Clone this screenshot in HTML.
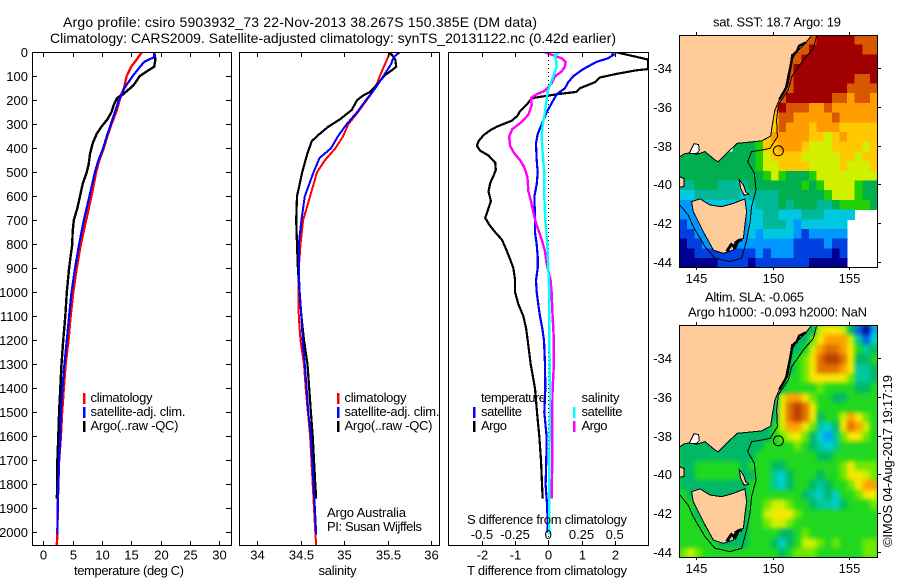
<!DOCTYPE html>
<html>
<head>
<meta charset="utf-8">
<title>Argo profile</title>
<style>
html,body{margin:0;padding:0;background:#fff;}
svg{display:block;}
text{font-family:"Liberation Sans",sans-serif;font-size:13px;fill:#000;}
</style>
</head>
<body>
<svg id="fig" xmlns="http://www.w3.org/2000/svg" width="900" height="580" viewBox="0 0 900 580">
<rect x="0" y="0" width="900" height="580" fill="#fff"/>
<defs>
<clipPath id="clipT"><rect x="32" y="52" width="200" height="494"/></clipPath>
<clipPath id="clipS"><rect x="239" y="52" width="201" height="494"/></clipPath>
<clipPath id="clipD"><rect x="448" y="52" width="201" height="494"/></clipPath>
<clipPath id="clipM1"><rect x="679" y="35" width="199" height="233"/></clipPath>
<clipPath id="clipM2"><rect x="679" y="325" width="199" height="233"/></clipPath>
</defs>
<text x="63" y="27" font-size="14" style="font-size:14px" textLength="474">Argo profile: csiro 5903932_73 22-Nov-2013 38.267S 150.385E (DM data)</text>
<text x="50" y="43" style="font-size:14px" textLength="566">Climatology: CARS2009. Satellite-adjusted climatology: synTS_20131122.nc (0.42d earlier)</text>

<g id="panelT"></g>
<g id="panelS"></g>
<g id="panelD"></g>
<g id="map1"></g>
<g id="map2"></g>

<text x="129" y="575" text-anchor="middle" textLength="110">temperature (deg C)</text>
<text x="337.5" y="575" text-anchor="middle" textLength="38">salinity</text>
<text x="547" y="575" text-anchor="middle" textLength="160">T difference from climatology</text>
<text x="547" y="524" text-anchor="middle" textLength="160">S difference from climatology</text>

<g>
<rect x="83" y="393" width="2.5" height="11" fill="#f00"/>
<rect x="83" y="407" width="2.5" height="11" fill="#00f"/>
<rect x="83" y="421" width="2.5" height="11" fill="#000"/>
<text x="90.5" y="402" textLength="62">climatology</text>
<text x="90.5" y="416" textLength="95">satellite-adj. clim.</text>
<text x="90.5" y="430" textLength="88">Argo(..raw -QC)</text>
</g>
<g>
<rect x="337" y="393" width="2.5" height="11" fill="#f00"/>
<rect x="337" y="407" width="2.5" height="11" fill="#00f"/>
<rect x="337" y="421" width="2.5" height="11" fill="#000"/>
<text x="344.5" y="402" textLength="62">climatology</text>
<text x="344.5" y="416" textLength="95">satellite-adj. clim.</text>
<text x="344.5" y="430" textLength="88">Argo(..raw -QC)</text>
</g>
<g>
<text x="327" y="517" textLength="79">Argo Australia</text>
<text x="327" y="531" textLength="95">PI: Susan Wijffels</text>
</g>
<g>
<text x="481" y="402" textLength="65">temperature</text>
<text x="581.5" y="402" textLength="38">salinity</text>
<rect x="473" y="407" width="2.5" height="11" fill="#00f"/>
<rect x="473" y="421" width="2.5" height="11" fill="#000"/>
<rect x="573" y="407" width="2.5" height="11" fill="#0ff"/>
<rect x="573" y="421" width="2.5" height="11" fill="#f0f"/>
<text x="481" y="416" textLength="41">satellite</text>
<text x="481" y="430" textLength="26">Argo</text>
<text x="581.5" y="416" textLength="41">satellite</text>
<text x="581.5" y="430" textLength="26">Argo</text>
</g>

<text x="777" y="26.5" text-anchor="middle" textLength="128">sat. SST: 18.7 Argo: 19</text>
<text x="705" y="301.5" textLength="99">Altim. SLA: -0.065</text>
<text x="688" y="316.5" textLength="179">Argo h1000: -0.093 h2000: NaN</text>
<text transform="translate(892,547) rotate(-90)" textLength="172">©IMOS 04-Aug-2017 19:17:19</text>
</svg>

<script>
// ---- profile data (depth in m, temperature in deg C, salinity in psu) ----
const climTempDepth = [0,30,60,100,150,180,200,250,300,350,400,450,500,550,600,700,800,900,1000,1100,1200,1300,1400,1500,1600,1700,1800,1900,2000,2056];
const climTemp = [16.8,15.9,15,14.2,13.75,13.2,13,12.4,11.6,10.9,10.3,9.55,9,8.6,8.2,7.3,6.4,5.7,5.1,4.65,4.3,3.8,3.5,3.2,3,2.7,2.55,2.45,2.4,2.3];
const satTempDepth = [0,20,40,60,100,150,180,200,250,300,350,400,450,500,600,700,800,900,1000,1100,1200,1300,1400,1500,1600,1700,1800,1900,2010];
const satTemp = [18.9,18.9,17.2,16.5,15.2,13.8,13.35,12.85,12.2,11.5,10.8,10.2,9.4,8.8,7.85,6.9,6.1,5.4,4.8,4.4,4,3.6,3.25,3,2.9,2.7,2.55,2.45,2.4];
const argoTempDepth = [0,30,60,80,100,130,150,175,190,220,250,280,310,340,380,420,470,500,550,600,650,700,750,800,850,900,1000,1100,1200,1300,1400,1500,1600,1700,1800,1860];
const argoTemp = [18.9,19.1,18.9,17.6,16.4,15.6,14.8,13.6,12.6,12,11.6,10.9,9.9,9.1,8.4,8,7.7,7.4,6.7,6.25,5.8,5.2,5,4.95,4.65,4.4,4,3.75,3.4,3.1,2.9,2.7,2.55,2.4,2.4,2.3];

const climSalDepth = [0,50,100,150,200,250,300,350,400,450,500,550,600,700,800,900,1000,1100,1200,1300,1400,1500,1600,1700,1800,1900,2000,2056];
const climSal = [35.53,35.47,35.41,35.36,35.26,35.16,35.05,34.99,34.9,34.78,34.69,34.65,34.61,34.53,34.5,34.48,34.475,34.48,34.5,34.54,34.56,34.585,34.61,34.625,34.64,34.655,34.67,34.68];
const satSalDepth = [0,20,50,100,150,200,250,300,350,400,440,500,600,700,800,900,1000,1100,1200,1300,1400,1500,1600,1700,1800,1900,2010];
const satSal = [35.64,35.57,35.54,35.45,35.36,35.25,35.15,35.03,34.93,34.85,34.72,34.65,34.55,34.51,34.48,34.48,34.49,34.51,34.525,34.55,34.57,34.59,34.62,34.635,34.65,34.665,34.68];
const argoSalDepth = [0,10,30,60,75,95,130,165,180,200,240,280,310,340,370,420,500,550,600,700,800,900,1000,1100,1200,1300,1400,1500,1600,1700,1800,1860];
const argoSal = [35.51,35.55,35.59,35.6,35.55,35.47,35.39,35.3,35.22,35.15,35.09,34.95,34.82,34.72,34.63,34.58,34.52,34.49,34.46,34.45,34.46,34.47,34.49,34.51,34.54,34.58,34.6,34.62,34.64,34.655,34.67,34.68];

const diffTSatDepth = [5,10,25,40,70,100,125,150,175,200,250,300,340,380,450,500,550,600,650,700,750,800,850,900,950,1000,1050,1100,1150,1200,1300,1400,1500,1600,1700,1800,1900,2000];
const diffTSat = [1.9,1.97,1.8,1.45,1.05,0.75,0.6,0.5,0.25,0.15,-0.05,-0.2,-0.32,-0.37,-0.35,-0.32,-0.35,-0.42,-0.41,-0.4,-0.4,-0.35,-0.32,-0.32,-0.37,-0.35,-0.3,-0.25,-0.18,-0.13,-0.1,-0.09,-0.12,-0.05,-0.06,-0.08,-0.03,-0.02];
const diffTArgoDepth = [0,30,70,75,90,105,125,150,165,175,190,200,215,245,265,285,310,325,345,370,390,410,430,460,490,515,545,580,620,650,690,720,750,780,820,870,900,950,1000,1050,1100,1150,1200,1300,1400,1500,1600,1700,1800,1860];
const diffTArgo = [2.05,3,3,2.65,2.05,1.55,1.4,0.95,0.85,0.25,-0.45,-0.55,-0.63,-0.85,-0.93,-1.1,-1.55,-1.75,-1.95,-2.1,-2.15,-2.05,-1.8,-1.6,-1.58,-1.65,-1.75,-1.8,-1.73,-1.8,-1.9,-1.77,-1.6,-1.4,-1.27,-1.13,-1.05,-1,-1,-0.9,-0.75,-0.67,-0.62,-0.53,-0.4,-0.34,-0.27,-0.22,-0.19,-0.17];
const diffSSatDepth = [0,10,30,60,100,130,170,200,250,300,350,400,450,500,600,700,800,900,1000,1200,1400,1500,1700,1900,2010];
const diffSSat = [0.0875,0.05,0.058,0.0625,0.0375,0.0175,-0.0075,-0.0125,-0.025,-0.0425,-0.05,-0.045,-0.0375,-0.03,-0.03,-0.0225,-0.0075,0,0.0075,0.0075,0.0125,0.0125,0.0075,0.0075,0.0075];
const diffSArgoDepth = [0,10,25,40,60,80,100,130,160,175,190,220,260,290,320,350,390,420,450,480,520,580,620,680,720,780,830,880,950,1000,1100,1200,1300,1400,1500,1600,1700,1860];
const diffSArgo = [-0.025,0.025,0.1,0.13,0.125,0.1,0.05,0.025,-0.025,-0.0875,-0.13,-0.125,-0.15,-0.2,-0.27,-0.295,-0.2875,-0.2575,-0.2125,-0.18,-0.1575,-0.15,-0.13,-0.1075,-0.0875,-0.05,-0.025,-0.0125,0.0175,0.025,0.0325,0.0425,0.0425,0.0325,0.03,0.03,0.03,0.025];

// ---- tick values ----
const depthTicks = [0,100,200,300,400,500,600,700,800,900,1000,1100,1200,1300,1400,1500,1600,1700,1800,1900,2000];
const tempTicks = [0,5,10,15,20,25,30];
const salTicks = [34,34.5,35,35.5,36];
const diffTTicks = [-2,-1,0,1,2];
const diffSTicks = [-0.5,-0.25,0,0.25,0.5];
const lonTicks = [145,150,155];
const latTicks = [-34,-36,-38,-40,-42,-44];

// ---- map grids: 0.5 degree cells, colour level per cell, -1 = no data ----
const sstGrid = [
[-1,-1,-1,-1,-1,-1,-1,-1,-1,-1,-1,-1,-1,-1,-1,-1,10,10,11,11,11,11,11,10,10,10],
[-1,-1,-1,-1,-1,-1,-1,-1,-1,-1,-1,-1,-1,-1,-1,10,10,11,11,11,11,11,11,11,10,10],
[-1,-1,-1,-1,-1,-1,-1,-1,-1,-1,-1,-1,-1,-1,10,10,11,11,11,11,11,11,11,11,11,11],
[-1,-1,-1,-1,-1,-1,-1,-1,-1,-1,-1,-1,-1,10,10,11,11,11,11,11,11,11,11,11,11,11],
[-1,-1,-1,-1,-1,-1,-1,-1,-1,-1,-1,-1,-1,10,10,11,11,11,11,11,11,11,11,10,10,11],
[-1,-1,-1,-1,-1,-1,-1,-1,-1,-1,-1,-1,10,10,10,11,11,11,11,11,11,11,10,10,10,10],
[-1,-1,-1,-1,-1,-1,-1,-1,-1,-1,-1,-1,10,10,11,11,11,11,11,11,10,10,9,10,10,9],
[-1,-1,-1,-1,-1,-1,-1,-1,-1,-1,-1,-1,9,11,10,10,10,9,9,10,9,9,9,9,9,9],
[-1,-1,-1,-1,-1,-1,-1,-1,-1,-1,-1,-1,8,10,10,9,9,9,9,9,10,9,9,9,9,9],
[-1,-1,-1,-1,-1,-1,-1,-1,-1,-1,-1,-1,8,10,9,9,9,8,9,9,9,8,8,8,8,8],
[-1,-1,-1,-1,-1,-1,-1,-1,-1,-1,7,8,9,9,9,9,9,8,8,7,8,9,8,8,8,8],
[-1,-1,-1,-1,-1,-1,-1,5,5,5,6,8,8,9,9,9,8,7,7,7,8,8,8,8,7,8],
[5,5,5,5,5,5,5,5,5,5,6,7,8,8,8,8,7,7,7,7,7,8,8,7,8,8],
[5,5,5,5,5,5,5,5,5,5,6,7,7,8,8,8,8,7,7,7,7,8,7,7,7,8],
[5,5,5,5,5,5,5,5,5,5,5,6,7,6,5,5,5,6,7,7,7,7,7,7,7,7],
[4,4,5,5,5,4,4,4,4,5,5,5,5,5,5,5,6,5,6,7,7,7,7,6,5,5],
[3,3,4,4,4,4,4,4,3,4,4,4,4,5,5,5,5,5,5,6,7,7,7,6,5,5],
[2,2,2,3,3,3,3,3,3,3,4,4,4,5,4,5,5,5,4,4,5,6,6,6,6,5],
[2,2,2,2,2,2,2,2,3,3,3,4,4,3,3,3,4,4,4,3,3,3,3,-1,-1,-1],
[1,2,2,2,2,2,2,2,2,3,3,4,4,4,3,2,3,3,3,3,3,3,-1,-1,-1,-1],
[1,1,2,2,2,2,2,2,2,3,2,3,3,3,3,2,1,2,2,2,2,2,-1,-1,-1,-1],
[0,1,1,2,2,2,2,2,2,2,2,2,2,2,2,1,1,1,1,2,1,1,-1,-1,-1,-1],
[0,0,1,1,1,1,1,1,1,1,2,1,2,2,2,1,1,1,1,1,0,1,-1,-1,-1,-1],
[0,0,0,0,0,1,1,1,1,0,1,1,1,1,1,1,1,0,0,0,0,0,-1,-1,-1,-1]
];
const slaGrid = [
[5,5,5,5,5,5,5,5,5,5,5,5,5,5,5,5,5,5,8,9,9,8,5,1,0,2],
[5,5,5,5,5,5,5,5,5,5,5,5,5,5,5,5,5,7,9,10,10,10,8,4,1,3],
[5,5,5,5,5,5,5,5,5,5,5,5,5,5,5,5,6,8,10,11,11,10,9,6,4,5],
[5,5,5,5,5,5,5,5,5,5,5,5,5,5,5,6,7,9,11,12,12,11,9,5,5,6],
[5,5,5,5,5,5,5,5,5,5,5,5,5,5,5,6,7,9,11,11,11,10,9,4,4,5],
[5,5,5,5,5,5,5,5,5,5,5,5,5,5,6,6,7,9,9,9,9,9,7,4,4,5],
[5,5,5,5,5,5,5,5,5,5,5,5,5,5,6,6,6,6,7,6,6,6,6,5,5,6],
[5,5,5,5,5,5,5,5,5,5,5,5,5,8,10,10,9,7,6,6,5,5,6,6,6,6],
[5,5,5,5,5,5,5,5,5,5,5,5,5,9,11,12,11,9,6,6,6,6,6,6,6,6],
[5,5,5,5,5,5,5,5,5,5,5,5,5,9,11,12,11,9,5,6,6,8,10,9,7,6],
[5,5,5,5,5,5,5,5,5,5,5,5,6,8,10,10,9,7,4,3,5,9,11,10,8,6],
[5,5,5,5,5,5,5,5,5,5,5,5,6,7,8,9,7,5,3,2,4,7,9,9,7,6],
[5,5,5,5,5,5,5,5,5,5,5,6,6,6,6,7,6,5,4,3,4,6,6,6,6,6],
[5,5,5,5,5,5,5,5,5,5,6,6,6,6,6,6,6,6,5,5,6,6,6,6,6,6],
[5,5,6,6,6,6,6,6,5,6,6,6,5,5,6,6,6,6,6,6,6,7,9,7,7,7],
[5,5,6,6,6,6,6,6,5,5,6,6,4,3,5,6,6,6,5,6,6,7,9,9,8,7],
[5,5,5,5,5,5,5,5,5,6,6,6,4,3,5,6,6,5,4,5,6,6,7,9,10,10],
[6,5,5,5,5,5,5,5,5,6,6,6,6,6,6,6,5,4,3,5,3,6,6,7,9,9],
[6,6,5,5,5,5,5,5,5,6,6,7,8,8,7,6,6,5,4,4,3,5,6,6,6,7],
[6,6,5,5,5,5,5,5,5,6,6,8,9,9,9,7,6,6,6,6,6,6,6,6,6,6],
[6,6,6,5,5,5,5,5,5,6,6,7,8,8,7,6,6,6,6,6,6,6,6,6,6,6],
[6,6,6,6,5,5,5,5,5,6,6,6,6,5,5,6,7,6,6,6,6,6,6,6,6,6],
[6,6,6,6,6,5,5,5,5,6,6,6,5,3,5,6,8,8,7,6,7,6,6,6,7,7],
[7,8,7,6,6,6,6,6,6,6,6,6,6,5,6,7,7,7,6,6,6,6,6,6,7,7]
];
const sstColors = ['#000090','#0040e0','#0098ff','#00c8e0','#00b898','#00b050','#20d000','#d0f000','#ffc800','#ff9c00','#d85800','#a00000'];
const slaColors = ['#000090','#0060f0','#00a0ff','#00d0d0','#00c8a0','#00b868','#20d820','#70e800','#d0f000','#f8e800','#ffa000','#e07000','#b84000'];

// ---- geography (lon / lat) ----
const coastLon = [143.88,152.57,152.2,151.59,151.26,151.04,150.82,150.45,150.16,149.97,149.88,149.29,147.69,147.21,146.44,146.23,145.57,145.02,144.7,144.26,143.88];
const coastLat = [-32.3,-32.32,-32.68,-33.16,-33.59,-34.27,-35.13,-35.62,-36.16,-37.02,-37.51,-37.76,-37.88,-38.23,-38.83,-38.74,-38.31,-38.45,-38.38,-38.4,-38.6];
const tasLon = [144.69,145.24,145.9,146.66,147.43,148.19,148.3,148.19,148.09,147.54,147.43,146.77,146.12,145.46,145.13,144.8];
const tasLat = [-40.89,-40.75,-41.06,-41.15,-40.98,-40.75,-41.41,-42.09,-42.78,-42.95,-43.38,-43.55,-43.38,-42.44,-41.92,-41.41];
const kingLon = [143.88,144.2,144.2,143.88];
const kingLat = [-39.6,-39.7,-40.1,-40.15];
const flindersLon = [147.82,148.09,148.24,148.44,148.15,147.91];
const flindersLat = [-39.77,-40.03,-40.37,-40.51,-40.56,-40.2];
const bayLon = [144.55,144.85,145.15,145.2,145.0,144.6];
const bayLat = [-38.38,-37.9,-37.95,-38.25,-38.42,-38.42];
const isoLon = [152.9,152.68,152.02,151.26,151.04,150.38,150.27,150.32,149.84,149.29,148.63,148.37,148.81,148.92,148.63,148.52,148.3,147.98,147.21,146.23,145.57,144.8,144.47,143.93];
const isoLat = [-32.32,-32.99,-33.59,-34.45,-35.13,-35.91,-36.68,-37.54,-38.14,-38.23,-38.31,-38.83,-39.43,-40.29,-41.15,-42.01,-42.87,-43.81,-43.98,-43.81,-43.21,-42.18,-41.58,-41.06];
const roughLon = [152.2,151.75,151.59,151.3,151.26,150.95,150.82,150.45];
const roughLat = [-32.68,-32.85,-33.16,-33.35,-33.59,-34.9,-35.13,-35.62];
const tasRoughLon = [147.0,147.3,147.55,147.75,148.0];
const tasRoughLat = [-43.45,-43.1,-43.25,-42.9,-42.85];
const argoLon = 150.385;
const argoLat = -38.267;

// ---- axis functions ----
const yDepth = d => 52.3 + d * 0.24;
const xTemp = t => 43.3 + t * 5.867;
const xSal = s => 257 + (s - 34) * 87;
const xDiffT = v => 548.3 + v * 33.2;
const xDiffS = v => xDiffT(v * 4);
const xLon = lon => 696.3 + (lon - 145) * 15.24;
const yLat1 = lat => 68 + (-34 - lat) * 19.4;
const yLat2 = lat => 358 + (-34 - lat) * 19.4;

const NS = 'http://www.w3.org/2000/svg';
function mk(tag, parent) {
  const el = document.createElementNS(NS, tag);
  parent.appendChild(el);
  return el;
}
function seriesLine(parent, xf, depths, vals, color, w, name, clip) {
  const el = mk('polyline', parent);
  
  
  el.setAttribute('points', depths.map((d, i) => xf(vals[i]).toFixed(1) + ',' + yDepth(d).toFixed(1)).join(' '));
  el.setAttribute('fill', 'none');
  el.setAttribute('stroke', color);
  el.setAttribute('stroke-width', w);
  el.setAttribute('shape-rendering', 'crispEdges');
  el.setAttribute('clip-path', 'url(#' + clip + ')');
}
function tick(parent, x1, y1, x2, y2) {
  const el = mk('line', parent);
  
  
  el.setAttribute('x1', x1);
  el.setAttribute('y1', y1);
  el.setAttribute('x2', x2);
  el.setAttribute('y2', y2);
  el.setAttribute('stroke', '#000');
  el.setAttribute('stroke-width', 1);
  el.setAttribute('shape-rendering', 'crispEdges');
}
function label(parent, x, y, str, anchor) {
  const el = mk('text', parent);
  
  
  el.setAttribute('x', x);
  el.setAttribute('y', y);
  el.setAttribute('text-anchor', anchor);
  el.textContent = str;
}
function frame(parent, x, y, w, h) {
  const el = mk('rect', parent);
  
  
  el.setAttribute('x', x);
  el.setAttribute('y', y);
  el.setAttribute('width', w);
  el.setAttribute('height', h);
  el.setAttribute('fill', 'none');
  el.setAttribute('stroke', '#000');
  el.setAttribute('stroke-width', 1);
  el.setAttribute('shape-rendering', 'crispEdges');
}

// ---- temperature panel ----
const pT = document.getElementById('panelT');
seriesLine(pT, xTemp, climTempDepth, climTemp, '#f00', 2.4, 'temp-climatology-line', 'clipT');
seriesLine(pT, xTemp, argoTempDepth, argoTemp, '#000', 2.4, 'temp-argo-line', 'clipT');
seriesLine(pT, xTemp, satTempDepth, satTemp, '#00f', 2.2, 'temp-satellite-line', 'clipT');
frame(pT, 32.5, 52.5, 199, 493);
depthTicks.forEach(d => {
  const y = Math.round(yDepth(d)) + 0.5;
  tick(pT, 32, y, 37, y);
  tick(pT, 226, y, 231, y);
  label(pT, 28, y + 4.5, String(d), 'end');
});
tempTicks.forEach(t => {
  const x = Math.round(xTemp(t)) + 0.5;
  tick(pT, x, 52, x, 57);
  tick(pT, x, 541, x, 546);
  label(pT, x, 559.5, String(t), 'middle');
});

// ---- salinity panel ----
const pS = document.getElementById('panelS');
seriesLine(pS, xSal, climSalDepth, climSal, '#f00', 2, 'sal-climatology-line', 'clipS');
seriesLine(pS, xSal, argoSalDepth, argoSal, '#000', 2.2, 'sal-argo-line', 'clipS');
seriesLine(pS, xSal, satSalDepth, satSal, '#00f', 2, 'sal-satellite-line', 'clipS');
frame(pS, 239.5, 52.5, 200, 493);
salTicks.forEach(s => {
  const x = Math.round(xSal(s)) + 0.5;
  tick(pS, x, 52, x, 57);
  tick(pS, x, 541, x, 546);
  label(pS, x, 559.5, String(s), 'middle');
});

// ---- difference panel ----
const pD = document.getElementById('panelD');
const zero = mk('line', pD);


zero.setAttribute('x1', 548.5);
zero.setAttribute('x2', 548.5);
zero.setAttribute('y1', 52);
zero.setAttribute('y2', 545);
zero.setAttribute('stroke', '#000');
zero.setAttribute('stroke-dasharray', '1 3');
seriesLine(pD, xDiffT, diffTArgoDepth, diffTArgo, '#000', 2.2, 'temp-diff-argo-line', 'clipD');
seriesLine(pD, xDiffT, diffTSatDepth, diffTSat, '#00f', 2.2, 'temp-diff-satellite-line', 'clipD');
seriesLine(pD, xDiffS, diffSArgoDepth, diffSArgo, '#f0f', 2.4, 'sal-diff-argo-line', 'clipD');
seriesLine(pD, xDiffS, diffSSatDepth, diffSSat, '#0ff', 2.4, 'sal-diff-satellite-line', 'clipD');
frame(pD, 448.5, 52.5, 200, 493);
diffTTicks.forEach(v => {
  const x = Math.round(xDiffT(v)) + 0.5;
  tick(pD, x, 52, x, 57);
  tick(pD, x, 541, x, 546);
  label(pD, x, 559.5, v < 0 ? '-' + Math.abs(v) : String(v), 'middle');
});
diffSTicks.forEach(v => {
  label(pD, xDiffS(v), 539, v < 0 ? '-' + Math.abs(v) : String(v), 'middle');
});

// ---- maps ----
function poly(parent, lons, lats, yf, fill, stroke, w, closed, name) {
  const el = mk(closed ? 'polygon' : 'polyline', parent);
  
  
  el.setAttribute('points', lons.map((lo, i) => xLon(lo).toFixed(1) + ',' + yf(lats[i]).toFixed(1)).join(' '));
  el.setAttribute('fill', fill);
  el.setAttribute('stroke', stroke);
  el.setAttribute('stroke-width', w);
  el.setAttribute('shape-rendering', 'crispEdges');
}
function drawMap(gid, grid, colors, yf, clip, fy, smooth) {
  const g = document.getElementById(gid);
  const holder = mk('g', g);
  
  
  holder.setAttribute('clip-path', 'url(#' + clip + ')');
  if (smooth) {
    const base = mk('rect', holder);
    
    
    base.setAttribute('x', 679);
    base.setAttribute('y', fy);
    base.setAttribute('width', 199);
    base.setAttribute('height', 233);
    base.setAttribute('fill', colors[6]);
  }
  const cells = mk('g', holder);
  
  
  if (smooth) cells.style.filter = 'blur(2.5px)';
  grid.forEach((row, r) => {
    row.forEach((lev, c) => {
      if (lev < 0) return;
      const x0 = xLon(143.89 + c * 0.5);
      const x1 = xLon(143.89 + (c + 1) * 0.5);
      const y0 = yf(-32.3 - r * 0.5);
      const y1 = yf(-32.3 - (r + 1) * 0.5);
      const el = mk('rect', cells);
      
      
      el.setAttribute('x', x0.toFixed(1));
      el.setAttribute('y', y0.toFixed(1));
      el.setAttribute('width', (x1 - x0 + 0.5).toFixed(1));
      el.setAttribute('height', (y1 - y0 + 0.5).toFixed(1));
      el.setAttribute('fill', colors[lev]);
      el.setAttribute('shape-rendering', 'crispEdges');
    });
  });
  const geo = mk('g', g);
  
  
  geo.setAttribute('clip-path', 'url(#' + clip + ')');
  poly(geo, coastLon, coastLat, yf, '#ffcc99', '#000', 1, true, 'mainland');
  poly(geo, tasLon, tasLat, yf, '#ffcc99', '#000', 1, true, 'tasmania');
  poly(geo, kingLon, kingLat, yf, '#ffcc99', '#000', 1, true, 'king-island');
  poly(geo, flindersLon, flindersLat, yf, '#ffcc99', '#000', 1, true, 'flinders-island');
  poly(geo, bayLon, bayLat, yf, '#fff', '#000', 1, true, 'port-phillip-bay');
  poly(geo, roughLon, roughLat, yf, 'none', '#000', 2.5, false, 'rough-nsw-coast');
  poly(geo, tasRoughLon, tasRoughLat, yf, 'none', '#000', 3, false, 'rough-tasmania-coast');
  poly(geo, isoLon, isoLat, yf, 'none', '#000', 1, false, 'isobath-contour');
  const c = mk('circle', g);
  
  
  c.setAttribute('cx', xLon(argoLon));
  c.setAttribute('cy', yf(argoLat));
  c.setAttribute('r', 5);
  c.setAttribute('fill', 'none');
  c.setAttribute('stroke', '#000');
  c.setAttribute('stroke-width', 1);
  frame(g, 679.5, fy + 0.5, 198, 232);
  lonTicks.forEach(lo => {
    const x = Math.round(xLon(lo)) + 0.5;
    tick(g, x, fy - 3, x, fy);
    tick(g, x, fy + 232, x, fy + 235);
    label(g, x, fy + 248, String(lo), 'middle');
  });
  latTicks.forEach(la => {
    const y = Math.round(yf(la)) + 0.5;
    tick(g, 878, y, 881, y);
    label(g, 672, y + 4.5, String(la), 'end');
  });
}
drawMap('map1', sstGrid, sstColors, yLat1, 'clipM1', 35, false);
drawMap('map2', slaGrid, slaColors, yLat2, 'clipM2', 325, true);
</script>
</body>
</html>
